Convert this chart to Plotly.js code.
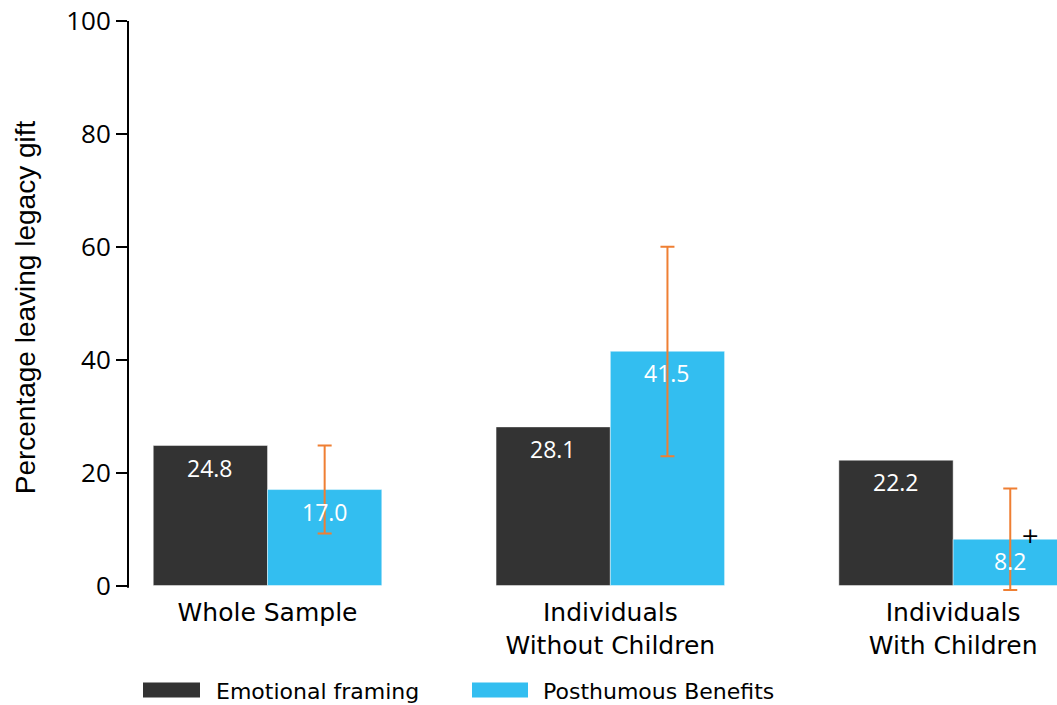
<!DOCTYPE html>
<html>
<head>
<meta charset="utf-8">
<script src="https://cdn.plot.ly/plotly-3.0.1.min.js"></script>
<style>html,body{margin:0;padding:0;background:#fff;}#chart{width:1057px;height:705px;}</style>
</head>
<body>
<div id="chart"></div>
<script>
const categories = ["Whole Sample", "Individuals<br>Without Children", "Individuals<br>With Children"];
const emotional = [24.8, 28.1, 22.2];
const posthumous = [17.0, 41.5, 8.2];
const posthumousUpper = [24.8, 60.0, 17.2];
const posthumousLower = [9.2, 22.9, -0.8];
const seriesNames = ["Emotional framing", "Posthumous Benefits"];
const yTicks = [0, 20, 40, 60, 80, 100];

const NUMFONT = "'Open Sans', sans-serif";
const LABFONT = "'DejaVu Sans', sans-serif";
const TITLEFONT = "'Liberation Sans', Arial, sans-serif";
const xIdx = categories.map((_, i) => i);
const off = 1/6;
const darkC = "#333333", blueC = "#33BEF0", errC = "#EF7F33";

const traces = [
  {type: "bar", x: xIdx, y: emotional, name: seriesNames[0], marker: {color: darkC, line: {color: "rgba(255,255,255,0.45)", width: 1}}, showlegend: false, hoverinfo: "y"},
  {type: "bar", x: xIdx, y: posthumous, name: seriesNames[1], marker: {color: blueC, line: {color: "rgba(255,255,255,0.45)", width: 1}}, showlegend: false, hoverinfo: "y",
   error_y: {type: "data", symmetric: false,
     array: posthumous.map((v, i) => +(posthumousUpper[i] - v).toFixed(2)),
     arrayminus: posthumous.map((v, i) => +(v - posthumousLower[i]).toFixed(2)),
     color: errC, thickness: 2, width: 7}}
];

const annotations = [];
emotional.forEach((v, i) => annotations.push({x: i - off, y: v, xref: "x", yref: "y", text: v.toFixed(1), showarrow: false, yshift: -22, yanchor: "middle", font: {family: NUMFONT, size: 23, color: "#ffffff"}}));
posthumous.forEach((v, i) => annotations.push({x: i + off, y: v, xref: "x", yref: "y", text: v.toFixed(1), showarrow: false, yshift: -22, yanchor: "middle", font: {family: NUMFONT, size: 23, color: "#ffffff"}}));
annotations.push({x: 2 + off, y: posthumous[2], xref: "x", yref: "y", text: "+", showarrow: false, xshift: 20, yshift: 4, font: {family: LABFONT, size: 22, color: "#000"}});

// legend (drawn manually to match wide swatches)
const yMin = -1.5, yMax = 100;
const PX_PER = 5.65;          // pixels per y unit
const plotBottom = 21 + (yMax - yMin) * PX_PER;
const plotH = plotBottom - 21;
const P = (px) => (px - 128) / 929;
const Q = (py) => (plotBottom - py) / plotH;
const shapes = [
  {type: "line", xref: "paper", yref: "y", x0: 0, x1: 0, y0: -0.4, y1: 100, line: {color: "#000", width: 2}},
  {type: "rect", xref: "paper", yref: "paper", x0: P(143), x1: P(200), y0: Q(698), y1: Q(683), fillcolor: darkC, line: {width: 0}},
  {type: "rect", xref: "paper", yref: "paper", x0: P(472), x1: P(528), y0: Q(698), y1: Q(683), fillcolor: blueC, line: {width: 0}}
];
annotations.push({x: P(214), y: Q(692), xref: "paper", yref: "paper", xanchor: "left", yanchor: "middle", showarrow: false, text: seriesNames[0], font: {family: LABFONT, size: 22, color: "#000"}});
annotations.push({x: P(541), y: Q(692), xref: "paper", yref: "paper", xanchor: "left", yanchor: "middle", showarrow: false, text: seriesNames[1], font: {family: LABFONT, size: 22, color: "#000"}});

const layout = {
  width: 1057, height: 705,
  margin: {l: 128, r: 0, t: 21, b: 705 - plotBottom},
  paper_bgcolor: "#fff", plot_bgcolor: "#fff",
  barmode: "group", bargap: 1/3, bargroupgap: 0,
  font: {family: LABFONT, color: "#000"},
  xaxis: {range: [-0.407, 2.303], tickvals: xIdx, ticktext: categories, showgrid: false, zeroline: false, showline: false, ticks: "", ticklabelstandoff: 1, tickfont: {family: LABFONT, size: 25, color: "#000"}},
  yaxis: {range: [yMin, yMax], tickvals: yTicks, showgrid: false, zeroline: false, showline: false, ticks: "outside", ticklen: 11, tickwidth: 2, tickcolor: "#000",
    tickfont: {family: NUMFONT, size: 26, color: "#000"},
    title: {text: "Percentage leaving legacy gift", font: {family: TITLEFONT, size: 28, color: "#000"}, standoff: 22}},
  annotations: annotations,
  shapes: shapes,
  showlegend: false
};
Plotly.newPlot("chart", traces, layout, {displayModeBar: false, staticPlot: true});
</script>
</body>
</html>
